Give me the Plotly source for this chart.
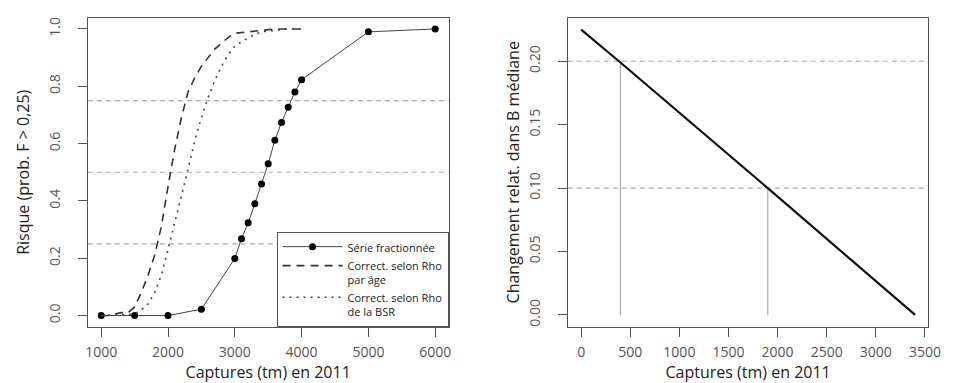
import plotly.graph_objects as go

# ---------------- data ----------------
# Left panel: risk (prob. F > 0.25) vs catch in 2011
serie_x = [1000, 1500, 2000, 2500, 3000, 3100, 3200, 3300, 3400, 3500, 3600, 3700, 3800, 3900, 4000, 5000, 6000]
serie_y = [0.0, 0.0, 0.0, 0.022, 0.199, 0.268, 0.324, 0.390, 0.459, 0.530, 0.612, 0.674, 0.727, 0.780, 0.823, 0.990, 1.0]

age_x = [1000, 1100, 1200, 1300, 1400, 1500, 1600, 1700, 1800, 1900, 2000, 2100, 2200, 2300, 2400, 2500, 2600, 2700, 2800, 2900, 3000, 3200, 3400, 3600, 3800, 4000]
age_y = [0.0, 0.0, 0.005, 0.01, 0.01, 0.03, 0.08, 0.14, 0.21, 0.31, 0.45, 0.58, 0.69, 0.78, 0.83, 0.87, 0.90, 0.93, 0.95, 0.97, 0.985, 0.99, 0.995, 1.0, 1.0, 1.0]

bsr_x = [1000, 1500, 1600, 1700, 1800, 1900, 2000, 2100, 2200, 2300, 2400, 2500, 2600, 2700, 2800, 2900, 3000, 3200, 3400, 3600, 3800, 4000]
bsr_y = [0.0, 0.005, 0.02, 0.04, 0.08, 0.14, 0.23, 0.32, 0.42, 0.51, 0.61, 0.69, 0.76, 0.82, 0.87, 0.91, 0.94, 0.97, 0.99, 0.995, 1.0, 1.0]

left_ref_levels = [0.25, 0.5, 0.75]
left_xticks = [1000, 2000, 3000, 4000, 5000, 6000]
left_yticks = [0.0, 0.2, 0.4, 0.6, 0.8, 1.0]
left_yticklabels = ["0.0", "0.2", "0.4", "0.6", "0.8", "1.0"]

# Right panel: relative change in median B vs catch in 2011
chg_x = [0, 400, 1900, 3400]
chg_y = [0.225, 0.199, 0.100, 0.0]

right_ref_levels = [0.1, 0.2]
right_vline_x = [400, 1900]
right_vline_top = [0.2, 0.1]
right_xticks = [0, 500, 1000, 1500, 2000, 2500, 3000, 3500]
right_yticks = [0.0, 0.05, 0.10, 0.15, 0.20]
right_yticklabels = ["0.00", "0.05", "0.10", "0.15", "0.20"]

names = ["Série fractionnée", "Correct. selon Rho<br>par âge", "Correct. selon Rho<br>de la BSR"]
xtitle = "Captures (tm) en 2011"
ytitle_left = "Risque (prob. F > 0,25)"
ytitle_right = "Changement relat. dans B médiane"

# ---------------- figure ----------------
W, H = 965, 383
FONT = "Open Sans"
TICKC = "#555555"
AXC = "#555555"

fig = go.Figure()

fig.add_trace(go.Scatter(x=serie_x, y=serie_y, mode="lines+markers", name=names[0],
                         line=dict(color="#444444", width=1),
                         marker=dict(color="black", size=7, symbol="circle"),
                         xaxis="x", yaxis="y"))
fig.add_trace(go.Scatter(x=age_x, y=age_y, mode="lines", name=names[1],
                         line=dict(color="#333333", width=1.6, dash="8px,6px"),
                         xaxis="x", yaxis="y"))
fig.add_trace(go.Scatter(x=bsr_x, y=bsr_y, mode="lines", name=names[2],
                         line=dict(color="#444444", width=1.6, dash="2px,5px"),
                         xaxis="x", yaxis="y"))

# right panel vertical gray lines
for vx, vt in zip(right_vline_x, right_vline_top):
    fig.add_trace(go.Scatter(x=[vx, vx], y=[0, vt], mode="lines", showlegend=False,
                             line=dict(color="#aaaaaa", width=1.2),
                             xaxis="x2", yaxis="y2", hoverinfo="skip"))

fig.add_trace(go.Scatter(x=chg_x, y=chg_y, mode="lines", showlegend=False,
                         line=dict(color="#111111", width=2.2),
                         xaxis="x2", yaxis="y2"))

shapes = []
for lv in left_ref_levels:
    shapes.append(dict(type="line", xref="x domain", yref="y", x0=0, x1=1, y0=lv, y1=lv,
                       line=dict(color="#aaaaaa", width=1.2, dash="5px,4px"), layer="below"))
for lv in right_ref_levels:
    shapes.append(dict(type="line", xref="x2 domain", yref="y2", x0=0, x1=1, y0=lv, y1=lv,
                       line=dict(color="#aaaaaa", width=1.2, dash="5px,4px"), layer="below"))

dom_y = [1 - 319 / H, 1 - 9.5 / H]
dom_x1 = [79 / W, 445 / W]
dom_x2 = [566 / W, 932 / W]

TF = dict(family=FONT, size=16, color="#222222")
common_x = dict(showgrid=False, zeroline=False, showline=True, mirror=True,
                linecolor=AXC, linewidth=1, ticks="outside", ticklen=9, tickcolor=AXC,
                tickfont=dict(family=FONT, size=14, color=TICKC),
                title=dict(text=xtitle, font=TF, standoff=1),
                ticklabelstandoff=3)
common_y = dict(showgrid=False, zeroline=False, showline=True, mirror=True,
                linecolor=AXC, linewidth=1, ticks="outside", ticklen=9, tickcolor=AXC,
                tickfont=dict(family=FONT, size=14, color=TICKC), tickangle=-90,
                ticklabelstandoff=12)

fig.update_layout(
    width=W, height=H,
    margin=dict(l=0, r=0, t=0, b=0),
    paper_bgcolor="white", plot_bgcolor="white",
    font=dict(family=FONT),
    xaxis=dict(domain=dom_x1, range=[800, 6200], tickvals=left_xticks, anchor="y", **common_x),
    yaxis=dict(domain=dom_y, range=[-0.04, 1.04], tickvals=left_yticks, ticktext=left_yticklabels,
               anchor="x", title=dict(text=ytitle_left, font=TF, standoff=11), **common_y),
    xaxis2=dict(domain=dom_x2, range=[-136, 3536], tickvals=right_xticks, anchor="y2", **common_x),
    yaxis2=dict(domain=dom_y, range=[-0.0095, 0.2345], tickvals=right_yticks, ticktext=right_yticklabels,
                anchor="x2", title=dict(text=ytitle_right, font=TF, standoff=1), **common_y),
    shapes=shapes,
    showlegend=True,
    legend=dict(x=445 / W, xanchor="right", y=1 - 319 / H, yanchor="bottom",
                bordercolor="#555555", borderwidth=1, bgcolor="white",
                font=dict(family=FONT, size=11, color="#222222"),
                tracegroupgap=0, itemwidth=60, valign="top"),
)

fig.write_html("out.html")
